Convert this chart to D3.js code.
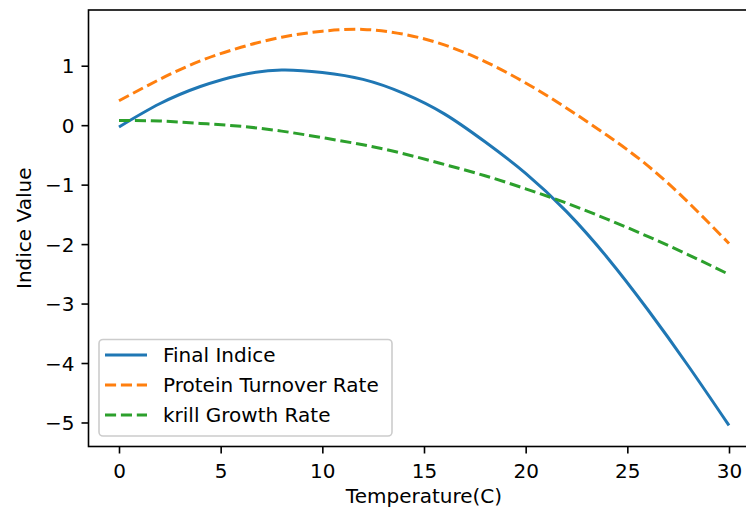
<!DOCTYPE html>
<html><head><meta charset="utf-8">
<script src="https://cdn.jsdelivr.net/npm/d3@7"></script>
<style>
html,body{margin:0;padding:0;background:#fff;overflow:hidden}
text{font-family:"DejaVu Sans",sans-serif;fill:#000}
</style></head>
<body>
<svg id="chart" width="746" height="510"></svg>
<script>
const temperature = [0,2,4,6,8,10,12,14,16,18,20,22,24,26,28,30];
const finalIndice = [-0.03,0.36,0.65,0.845,0.927,0.885,0.77,0.535,0.19,-0.28,-0.81,-1.45,-2.22,-3.10,-4.05,-5.05];
const proteinTurnover = [0.41,0.77,1.08,1.31,1.48,1.58,1.61,1.53,1.35,1.07,0.71,0.29,-0.17,-0.68,-1.30,-1.99];
const krillGrowth = [0.08,0.07,0.03,-0.02,-0.10,-0.21,-0.33,-0.48,-0.66,-0.85,-1.07,-1.31,-1.58,-1.87,-2.18,-2.51];
const xTicks = [0,5,10,15,20,25,30];
const yTicks = [-5,-4,-3,-2,-1,0,1];
const seriesNames = ["Final Indice","Protein Turnover Rate","krill Growth Rate"];
const seriesColors = ["#1f77b4","#ff7f0e","#2ca02c"];

const svg = d3.select("#chart");
const L = 88.5, R = 759.5, T = 10, B = 446.5;
const x = d3.scaleLinear().domain([-1.5, 31.5]).range([L, R]);
const y = d3.scaleLinear().domain([-5.404, 1.937]).range([B, T]);
const FS = 20;

const series = [finalIndice, proteinTurnover, krillGrowth];
const dashes = [null, "11.1,4.8", "11.1,4.8"];
const line = d3.line().x((d,i)=>x(temperature[i])).y(d=>y(d)).curve(d3.curveNatural);
series.forEach((s,k)=>{
  svg.append("path").datum(s).attr("d", line)
    .attr("fill","none").attr("stroke",seriesColors[k]).attr("stroke-width",3)
    .attr("stroke-dasharray",dashes[k]);
});

// axes
const gx = svg.append("g").attr("transform",`translate(0,${B})`)
  .call(d3.axisBottom(x).tickValues(xTicks).tickSize(7).tickPadding(7).tickFormat(d3.format("d")));
const gy = svg.append("g").attr("transform",`translate(${L},0)`)
  .call(d3.axisLeft(y).tickValues(yTicks).tickSize(7).tickPadding(7).tickFormat(d=>d<0?"\u2212"+Math.abs(d):String(d)));
[gx,gy].forEach(g=>{
  g.select(".domain").remove();
  g.selectAll(".tick line").attr("stroke","#000").attr("stroke-width",1.6);
  g.selectAll(".tick text").attr("font-family","DejaVu Sans").attr("font-size",FS).attr("fill","#000");
});
gx.selectAll(".tick text").attr("dy",null).attr("y",31.5);
gy.selectAll(".tick text").attr("dy",null).attr("y",7.2);

// spines
svg.append("rect").attr("x",L).attr("y",T).attr("width",R-L).attr("height",B-T)
  .attr("fill","none").attr("stroke","#000").attr("stroke-width",1.6);

// labels
svg.append("text").attr("x",(L+R)/2).attr("y",503).attr("text-anchor","middle")
  .attr("font-size",FS).text("Temperature(C)");
svg.append("text").attr("transform",`translate(30.5,${(T+B)/2}) rotate(-90)`).attr("text-anchor","middle")
  .attr("font-size",FS).text("Indice Value");

// legend
const lg = svg.append("g");
lg.append("rect").attr("x",99).attr("y",339.5).attr("width",293).attr("height",96.5).attr("rx",4)
  .attr("fill","#fff").attr("fill-opacity",0.8).attr("stroke","#ccc").attr("stroke-width",1.6);
seriesNames.forEach((n,k)=>{
  const yy = 355 + k*30;
  lg.append("line").attr("x1",105).attr("x2",147).attr("y1",yy).attr("y2",yy)
    .attr("stroke",seriesColors[k]).attr("stroke-width",3).attr("stroke-dasharray",dashes[k]);
  lg.append("text").attr("x",163).attr("y",yy+7.2).attr("font-size",FS).text(n);
});
</script>
</body></html>
